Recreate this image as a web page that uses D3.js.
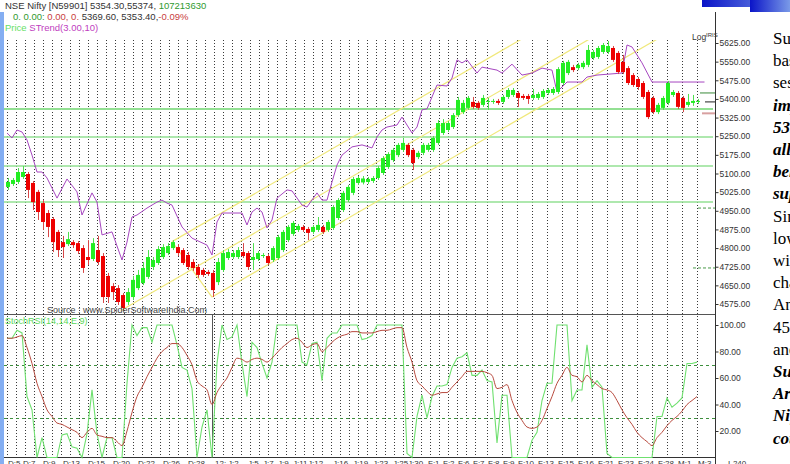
<!DOCTYPE html>
<html>
<head>
<meta charset="utf-8">
<script src="https://cdn.jsdelivr.net/npm/d3@7"></script>
<style>
body { margin: 0; background: #fff; overflow: hidden; }
svg { display: block; font-family: "Liberation Sans", Arial, sans-serif; }
</style>
</head>
<body>
<div id="chart"></div>
<script>
// 4 hour bars, Dec 5 to Mar 3
var openP = [5046,5058,5066,5086,5098,5062,5026,4981,4941,4917,
	4865,4824,4816,4824,4820,4800,4764,4756,4792,4768,
	4688,4647,4639,4611,4583,4603,4639,4659,4684,4724,
	4740,4764,4780,4800,4804,4792,4772,4744,4724,4712,
	4704,4700,4663,4712,4760,4764,4764,4784,4780,4752,
	4756,4768,4768,4752,4760,4792,4832,4857,4873,4885,
	4877,4865,4873,4885,4873,4881,4921,4953,4993,5022,
	5062,5064,5066,5070,5082,5102,5126,5154,5174,5195,
	5215,5195,5166,5183,5195,5195,5223,5263,5275,5287,
	5335,5347,5364,5388,5384,5376,5388,5388,5392,5388,
	5408,5416,5424,5412,5412,5404,5404,5408,5424,5424,
	5428,5464,5504,5528,5524,5528,5537,5565,5569,5589,
	5589,5605,5585,5549,5524,5496,5480,5464,5428,5404,
	5347,5364,5384,5416,5424,5404,5376,5384,5388];
var closeP = [5066,5074,5106,5106,5034,4985,4945,4905,4885,4824,
	4792,4804,4836,4812,4788,4720,4752,4820,4744,4603,
	4603,4623,4583,4559,4623,4672,4692,4720,4764,4752,
	4796,4804,4808,4824,4780,4740,4724,4720,4692,4692,
	4696,4631,4744,4780,4784,4780,4792,4768,4724,4764,
	4780,4772,4740,4800,4844,4865,4885,4901,4889,4873,
	4861,4885,4893,4865,4905,4965,4993,5022,5046,5078,
	5082,5080,5078,5082,5122,5162,5178,5195,5215,5223,
	5174,5142,5183,5215,5215,5243,5303,5303,5303,5335,
	5396,5384,5404,5368,5364,5404,5392,5392,5384,5408,
	5436,5436,5404,5404,5400,5416,5420,5432,5436,5440,
	5520,5545,5549,5516,5537,5545,5597,5589,5605,5617,
	5613,5557,5508,5508,5464,5456,5448,5408,5327,5347,
	5376,5404,5464,5428,5368,5364,5388,5392,5392];
var highP = [5082,5082,5122,5130,5106,5070,5034,4993,4953,4925,
	4873,4849,4865,4832,4828,4812,4832,4840,4849,4780,
	4700,4659,4651,4619,4639,4688,4712,4744,4792,4764,
	4808,4816,4820,4832,4816,4800,4784,4756,4736,4720,
	4712,4712,4760,4792,4796,4792,4804,4820,4788,4820,
	4788,4780,4776,4808,4853,4873,4893,4909,4897,4893,
	4885,4893,4925,4893,4913,4973,5001,5030,5054,5086,
	5090,5090,5086,5090,5130,5170,5186,5203,5223,5243,
	5223,5203,5191,5223,5223,5251,5315,5319,5311,5343,
	5408,5396,5412,5408,5392,5416,5404,5400,5400,5416,
	5444,5444,5432,5420,5420,5440,5428,5440,5444,5448,
	5528,5553,5557,5537,5545,5553,5617,5597,5613,5625,
	5633,5613,5593,5577,5532,5504,5488,5472,5436,5412,
	5384,5412,5472,5436,5432,5412,5420,5416,5400];
var lowP = [5034,5050,5058,5078,5001,4953,4913,4873,4844,4784,
	4764,4760,4808,4800,4776,4700,4732,4748,4732,4579,
	4579,4591,4571,4547,4571,4591,4631,4651,4676,4712,
	4732,4756,4772,4792,4768,4732,4712,4708,4680,4684,
	4688,4603,4651,4704,4752,4756,4756,4760,4712,4712,
	4748,4760,4732,4744,4752,4784,4824,4849,4865,4865,
	4832,4857,4865,4857,4865,4873,4913,4945,4985,5013,
	5054,5056,5058,5062,5074,5094,5118,5146,5166,5187,
	5166,5114,5158,5174,5187,5187,5215,5255,5267,5279,
	5327,5339,5356,5360,5356,5368,5356,5380,5376,5380,
	5400,5408,5368,5396,5380,5396,5396,5400,5416,5416,
	5420,5456,5496,5508,5516,5520,5528,5557,5561,5581,
	5581,5549,5500,5500,5456,5448,5436,5400,5319,5339,
	5339,5356,5376,5408,5360,5347,5368,5372,5380];

// STrend(3,10) turning points [bar, value]
var sTrend = [[0,5263],[1,5243],[2,5275],[3,5267],[4,5235],[5,5174],[6,5106],[7,5106],[8,5082],
	[10,5001],[12,5078],[14,5026],[15,4933],[17,5022],[18,4985],[19,4853],[21,4865],[23,4752],
	[24,4824],[25,4925],[26,4933],[28,4961],[30,4985],[31,4993],[32,4981],[33,4973],[35,4885],
	[37,4840],[40,4812],[41,4772],[42,4905],[43,4941],[47,4941],[48,4893],[49,4945],[50,4961],
	[51,4945],[52,4881],[53,4913],[54,5001],[56,5034],[57,5030],[59,4973],[60,4965],[62,5022],
	[63,4993],[64,4993],[65,5066],[66,5134],[67,5174],[69,5207],[71,5215],[73,5203],[74,5247],
	[75,5275],[76,5287],[78,5295],[79,5327],[80,5295],[81,5263],[82,5287],[83,5356],[84,5360],
	[86,5456],[88,5452],[89,5484],[90,5557],[91,5545],[92,5557],[94,5504],[95,5528],[98,5516],
	[99,5504],[101,5540],[103,5496],[105,5504],[107,5524],[109,5516],[110,5428],[112,5468],
	[115,5468],[116,5488],[118,5496],[123,5504],[124,5617],[125,5609],[127,5545],[129,5468],
	[139.5,5468]];

// StochRSI(14,14,E,9)
var stochK = [90,90,96,94,46,36,0,15,0,0,
	0,17,18,8,7,0,18,51,18,0,
	15,15,0,0,56,100,92,98,98,87,
	100,100,100,100,85,68,66,52,0,23,
	36,0,71,100,89,91,100,71,46,87,
	83,71,60,72,100,100,100,100,100,72,
	70,86,87,58,90,94,94,100,100,100,
	100,89,90,92,100,100,100,100,100,100,
	3,0,31,47,30,46,54,54,55,68,
	75,76,79,62,62,66,58,57,11,47,
	47,0,0,0,0,13,19,43,56,56,
	100,100,100,43,51,51,85,53,58,53,
	3,0,0,0,0,0,0,0,0,0,
	31,31,45,38,41,45,71,71,72];
var stochD = [90,90,91,92,83,71,56,46,36,31,
	26,25,23,21,19,15,19,22,17,16,
	15,15,12,9,20,34,46,53,61,68,
	75,80,83,86,86,83,77,70,58,54,
	51,40,49,55,60,68,75,74,72,74,
	75,74,72,75,79,83,86,89,90,87,
	83,85,86,80,83,87,90,92,93,95,
	95,94,94,94,95,96,96,97,98,98,
	83,72,58,54,50,47,48,49,49,53,
	57,61,65,65,65,65,64,62,52,53,
	55,43,34,28,23,22,23,28,37,46,
	56,62,68,62,61,57,62,58,55,52,
	51,49,43,36,30,25,19,15,12,9,
	15,19,24,28,31,35,40,43,46];

var supportLevels = [5359, 5247, 5130, 4985];
var forkPoints = [[22.8, 4549], [33, 4826], [41, 4603]];
var priceTicks = [5625,5550,5475,5400,5325,5250,5175,5100,5025,4950,4875,4800,4725,4650,4575];
var rsiTicks = [100, 80, 60, 40, 20];
var rsiBands = [70, 30];
var dateLabels = ["D:5","D:7","D:9","D:13","D:15","D:20","D:22","D:26","D:28","12:",
	"J:2","J:5","J:7","J:9","J:11","J:12","J:16","J:19","J:23","J:25","J:30",
	"F:1","F:2","F:6","F:7","F:8","F:9","F:10","F:13","F:15","F:16","F:21","F:23","F:24","F:28",
	"M:1","M:3"];
var dateIdx = [0,3,7,11,16,21,26,31,36,41.4,44,48,51,54,57,60,65,69,73,77,80,
	84,87,90,93,96,99,102,106,110,114,118,122,126,130,134,138];
var sideWords = ["Support","based","session","important","5350","all","below","support","Since",
	"low","with","chart","And","4500","and","Support","Around","Nifty","could"];
var sideBold = [0,0,0,1,1,1,1,1,0,0,0,0,0,0,0,1,1,1,1];

var width = 790, height = 464;
var plotLeft = 4, axisX = 715;
var plotTop = 40, sep = 314, plotBottom = 457;

var svg = d3.select("#chart").append("svg").attr("width", width).attr("height", height);

var x = d3.scaleLinear().domain([0, 138]).range([7, 697]);
var y = d3.scaleLinear().domain([4575, 5625]).range([304, 43]);
var yr = d3.scaleLinear().domain([0, 100]).range([457.5, 325]);

// window decorations
svg.append("rect").attr("x", 0).attr("y", 12).attr("width", plotLeft).attr("height", height - 12).attr("fill", "#84aef2");
var defs = svg.append("defs");
var grad = defs.append("linearGradient").attr("id", "bar");
grad.append("stop").attr("offset", "0%").attr("stop-color", "#0a14c8");
grad.append("stop").attr("offset", "100%").attr("stop-color", "#7a9ae8");
svg.append("rect").attr("x", 702).attr("y", 0).attr("width", 88).attr("height", 7).attr("fill", "url(#bar)");
svg.append("rect").attr("x", 750).attr("y", 0).attr("width", 40).attr("height", 12).attr("fill", "url(#bar)");

defs.append("clipPath").attr("id", "pricePanel")
	.append("rect").attr("x", plotLeft).attr("y", plotTop).attr("width", axisX - plotLeft).attr("height", sep - plotTop);

// vertical dotted grid
var grid = d3.range(0, 95, 1.8).concat(d3.range(96, 139, 3));
svg.append("g").selectAll("line").data(grid).join("line")
	.attr("x1", (d) => Math.round(x(d)) + 0.5)
	.attr("x2", (d) => Math.round(x(d)) + 0.5)
	.attr("y1", plotTop).attr("y2", plotBottom)
	.attr("stroke", "#3a3a3a").attr("stroke-dasharray", "1,2");

// support / resistance
svg.append("g").selectAll("line").data(supportLevels).join("line")
	.attr("x1", plotLeft).attr("x2", axisX - 2)
	.attr("y1", (d) => y(d)).attr("y2", (d) => y(d))
	.attr("stroke", "#93e093").attr("stroke-width", (d, i) => (i == 0 ? 2 : 1.5));

// pitchfork
var p1 = [x(forkPoints[0][0]), y(forkPoints[0][1])];
var p2 = [x(forkPoints[1][0]), y(forkPoints[1][1])];
var p3 = [x(forkPoints[2][0]), y(forkPoints[2][1])];
var mid = [(p2[0] + p3[0]) / 2, (p2[1] + p3[1]) / 2];
var slope = (mid[1] - p1[1]) / (mid[0] - p1[0]);
var fork = svg.append("g").attr("clip-path", "url(#pricePanel)");
[p1, p2, p3].forEach(function (p) {
	fork.append("line")
		.attr("x1", p[0]).attr("y1", p[1])
		.attr("x2", axisX).attr("y2", p[1] + slope * (axisX - p[0]))
		.attr("stroke", "#f0e87a").attr("stroke-width", 1.2);
});
fork.append("line").attr("x1", p2[0]).attr("y1", p2[1]).attr("x2", p3[0]).attr("y2", p3[1])
	.attr("stroke", "#f0e87a").attr("stroke-width", 1.2);

// STrend
svg.append("path").datum(sTrend)
	.attr("d", d3.line().x((d) => x(d[0])).y((d) => y(d[1])))
	.attr("fill", "none").attr("stroke", "#a646c0").attr("stroke-width", 1);

// candles
var bars = d3.range(openP.length);
var candle = svg.append("g").selectAll("g").data(bars).join("g");
candle.append("line")
	.attr("x1", (i) => x(i) + 1.5).attr("x2", (i) => x(i) + 1.5)
	.attr("y1", (i) => y(highP[i])).attr("y2", (i) => y(lowP[i]))
	.attr("stroke", (i) => (closeP[i] >= openP[i] ? "#4ee04e" : "#d84848"));
candle.append("rect")
	.attr("x", (i) => x(i) - 1).attr("width", 4)
	.attr("y", (i) => y(Math.max(openP[i], closeP[i])))
	.attr("height", (i) => Math.max(1, Math.abs(y(openP[i]) - y(closeP[i]))))
	.attr("fill", (i) => (closeP[i] >= openP[i] ? "#22ee22" : "#ee0000"));

// last value markers near the scale
var markers = [
	{ v: 5424, from: 138.6, c: "#3a8a3a", w: 1 },
	{ v: 5388, from: 139.6, c: "#222", w: 1 },
	{ v: 5342, from: 139, c: "#d8a0a0", w: 2 }
];
svg.append("g").selectAll("line").data(markers).join("line")
	.attr("x1", (d) => x(d.from)).attr("x2", axisX)
	.attr("y1", (d) => y(d.v)).attr("y2", (d) => y(d.v))
	.attr("stroke", (d) => d.c).attr("stroke-width", (d) => d.w);
svg.append("g").selectAll("line").data([4961, 4720]).join("line")
	.attr("x1", (d, i) => x(138.2 - i)).attr("x2", axisX)
	.attr("y1", (d) => y(d)).attr("y2", (d) => y(d))
	.attr("stroke", "#4a9a4a").attr("stroke-dasharray", "3,2");

// panel frame
svg.append("line").attr("x1", plotLeft).attr("x2", axisX).attr("y1", sep + 0.5).attr("y2", sep + 0.5).attr("stroke", "#555");
svg.append("line").attr("x1", plotLeft).attr("x2", axisX).attr("y1", plotBottom + 0.5).attr("y2", plotBottom + 0.5).attr("stroke", "#333");
svg.append("line").attr("x1", axisX + 0.5).attr("x2", axisX + 0.5).attr("y1", 12).attr("y2", height).attr("stroke", "#333");
svg.append("line").attr("x1", Math.round(x(dateIdx[9])) - 1.5).attr("x2", Math.round(x(dateIdx[9])) - 1.5)
	.attr("y1", sep + 1).attr("y2", plotBottom).attr("stroke", "#555");

// StochRSI panel
svg.append("g").selectAll("line").data(rsiBands).join("line")
	.attr("x1", plotLeft).attr("x2", axisX)
	.attr("y1", (d) => Math.round(yr(d)) + 0.5).attr("y2", (d) => Math.round(yr(d)) + 0.5)
	.attr("stroke", "#3d8f3d").attr("stroke-dasharray", "3,3");
svg.append("path").datum(stochK)
	.attr("d", d3.line().x((d, i) => x(i)).y((d) => yr(d)))
	.attr("fill", "none").attr("stroke", "#6fe06f").attr("stroke-width", 1.1);
svg.append("path").datum(stochD)
	.attr("d", d3.line().curve(d3.curveMonotoneX).x((d, i) => x(i)).y((d) => yr(d)))
	.attr("fill", "none").attr("stroke", "#b84a3e").attr("stroke-width", 1);

// axes
var pAxis = svg.append("g").attr("transform", `translate(${axisX + 0.5},0)`)
	.call(d3.axisRight(y).tickValues(priceTicks).tickSize(3).tickPadding(1).tickFormat(d3.format(".2f")));
var rAxis = svg.append("g").attr("transform", `translate(${axisX + 0.5},0)`)
	.call(d3.axisRight(yr).tickValues(rsiTicks).tickSize(3).tickPadding(1).tickFormat(d3.format(".2f")));
[pAxis, rAxis].forEach(function (a) {
	a.select(".domain").remove();
	a.selectAll("line").attr("stroke", "#333");
	a.selectAll("text").attr("font-family", "'Liberation Sans', Arial, sans-serif")
		.attr("font-size", "8.5px").attr("fill", "#333");
});

// date labels
svg.append("g").selectAll("text").data(dateLabels).join("text")
	.attr("x", (d, i) => x(dateIdx[i]) + 1).attr("y", 466)
	.attr("font-size", "8px").attr("fill", "#333")
	.text((d) => d);
svg.append("text").attr("x", 728).attr("y", 466).attr("font-size", "8px").attr("fill", "#333").text("I-240");

// header
var head = svg.append("g").attr("font-size", "9.5px").style("white-space", "pre");
var h1 = head.append("text").attr("x", 5).attr("y", 9);
h1.append("tspan").attr("fill", "#333").text("NSE Nifty [N59901] 5354.30,55374, ");
h1.append("tspan").attr("fill", "#2f9a2f").text("107213630");
var h2 = head.append("text").attr("x", 13).attr("y", 20);
h2.append("tspan").attr("fill", "#2f9a2f").text("0.   0.00:   ");
h2.append("tspan").attr("fill", "#c84040").text("0.00,   0.");
h2.append("tspan").attr("fill", "#333").text(" 5369.60, 5353.40,");
h2.append("tspan").attr("fill", "#c84040").text("-0.09%");
var h3 = head.append("text").attr("x", 5).attr("y", 31);
h3.append("tspan").attr("fill", "#66e066").text("Price  ");
h3.append("tspan").attr("fill", "#c040c0").text("STrend(3.00,10)");

svg.append("text").attr("x", 692).attr("y", 40).attr("font-size", "8.5px").attr("fill", "#333").text("Log");
svg.append("text").attr("x", 706).attr("y", 37).attr("font-size", "6px").attr("fill", "#333").text("IRIS");
svg.append("text").attr("x", 127).attr("y", 313).attr("text-anchor", "middle")
	.attr("font-size", "9px").attr("fill", "#444").text("Source : www.SpiderSoftwareIndia.Com");
svg.append("text").attr("x", 5).attr("y", 324).attr("font-size", "9px").attr("fill", "#5ad85a").text("StochRSI(14,14,E,9)");

// article text cut by the window edge
svg.append("g").selectAll("text").data(sideWords).join("text")
	.attr("x", 773).attr("y", (d, i) => 44 + i * 22.2)
	.attr("font-family", "'Liberation Serif', 'Times New Roman', serif")
	.attr("font-size", "17px").attr("fill", "#000")
	.attr("font-weight", (d, i) => (sideBold[i] ? "bold" : "normal"))
	.attr("font-style", (d, i) => (sideBold[i] ? "italic" : "normal"))
	.text((d) => d);
</script>
</body>
</html>
